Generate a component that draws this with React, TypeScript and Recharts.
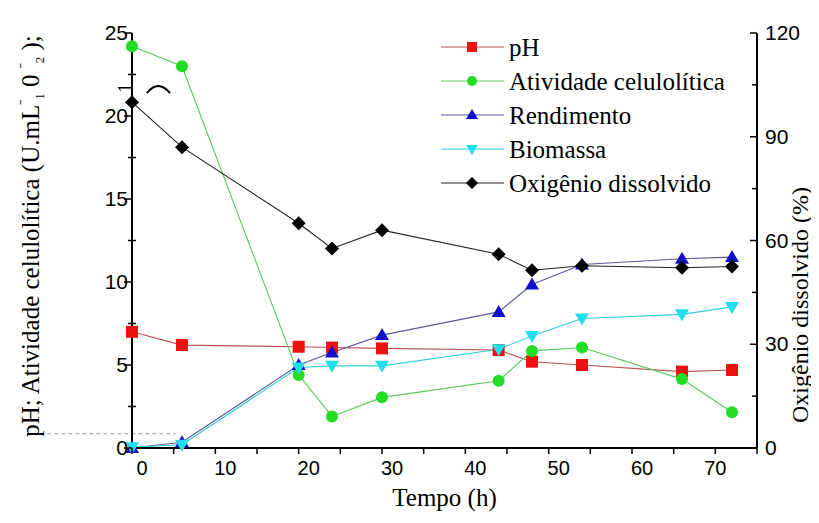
import React from "react";
import { LineChart, Line, XAxis, YAxis, Legend, ReferenceLine, Label } from "recharts";

// tempo de cultivo (h)
const tempo = [0, 6, 20, 24, 30, 44, 48, 54, 66, 72];

// eixo esquerdo
const ph = [7.0, 6.2, 6.1, 6.05, 6.0, 5.9, 5.2, 5.0, 4.6, 4.7];
const atividade = [24.2, 23.0, 4.4, 1.9, 3.05, 4.05, 5.85, 6.05, 4.15, 2.15];
const rendimento = [0.0, 0.35, 5.0, 5.75, 6.8, 8.2, 9.85, 11.05, 11.4, 11.5];
const biomassa = [0.05, 0.2, 4.85, 4.95, 4.95, 5.95, 6.75, 7.8, 8.05, 8.5];

// eixo direito (%)
const oxigenio = [100, 87, 65, 57.7, 63, 56, 51.4, 52.7, 52.1, 52.5];

const xTicks = [0, 5, 10, 15, 20, 25, 30, 35, 40, 45, 50, 55, 60, 65, 70, 75];
const leftTicks = [0, 2.5, 5, 7.5, 10, 12.5, 15, 17.5, 20, 22.5, 25];
const rightTicks = [0, 15, 30, 45, 60, 75, 90, 105, 120];

const data = tempo.map((t, i) => ({
  tempo: t,
  ph: ph[i],
  atividade: atividade[i],
  rendimento: rendimento[i],
  biomassa: biomassa[i],
  oxigenio: oxigenio[i],
}));

type Shape = "square" | "circle" | "up" | "down" | "diamond";

const series: { key: string; name: string; fill: string; stroke: string; shape: Shape; axis: string }[] = [
  { key: "ph", name: "pH", fill: "#ee1111", stroke: "#b85050", shape: "square", axis: "left" },
  { key: "atividade", name: "Atividade celulolítica", fill: "#22dd22", stroke: "#55cc55", shape: "circle", axis: "left" },
  { key: "rendimento", name: "Rendimento", fill: "#1111cc", stroke: "#5a5a96", shape: "up", axis: "left" },
  { key: "biomassa", name: "Biomassa", fill: "#22ddee", stroke: "#33ccdd", shape: "down", axis: "left" },
  { key: "oxigenio", name: "Oxigênio dissolvido", fill: "#000000", stroke: "#222222", shape: "diamond", axis: "right" },
];

const SANS = "'Liberation Sans', Arial, sans-serif";
const SERIF = "'Liberation Serif', 'Times New Roman', serif";

function Marker({ cx, cy, shape, fill, s = 6 }: { cx: number; cy: number; shape: Shape; fill: string; s?: number }) {
  if (cx == null || cy == null || isNaN(cx) || isNaN(cy)) return null;
  switch (shape) {
    case "square":
      return <rect x={cx - s} y={cy - s} width={2 * s} height={2 * s} fill={fill} />;
    case "circle":
      return <circle cx={cx} cy={cy} r={s} fill={fill} />;
    case "up":
      return <polygon points={`${cx},${cy - s - 1} ${cx + s + 1},${cy + s - 1} ${cx - s - 1},${cy + s - 1}`} fill={fill} />;
    case "down":
      return <polygon points={`${cx - s - 1},${cy - s + 1} ${cx + s + 1},${cy - s + 1} ${cx},${cy + s + 1}`} fill={fill} />;
    default:
      return <polygon points={`${cx},${cy - s - 1} ${cx + s + 1},${cy} ${cx},${cy + s + 1} ${cx - s - 1},${cy}`} fill={fill} />;
  }
}

function XTick({ x, y, payload }: any) {
  const v = payload.value;
  const dx = v === 70 ? 0 : 10;
  return (
    <g>
      <line x1={x} x2={x} y1={y} y2={y + 6} stroke="#000" strokeWidth={1.5} />
      {v % 10 === 0 && v <= 70 && (
        <text x={x + dx} y={y + 27} textAnchor="middle" fontSize={20} fontFamily={SANS} fill="#000">
          {v}
        </text>
      )}
    </g>
  );
}

function LeftTick({ x, y, payload }: any) {
  const v = payload.value;
  const major = v % 5 === 0;
  return (
    <g>
      {major ? (
        <line x1={x - 8} x2={x} y1={y} y2={y} stroke="#000" strokeWidth={1.5} />
      ) : (
        <line x1={x - 4} x2={x + 4} y1={y} y2={y} stroke="#000" strokeWidth={1.5} />
      )}
      {major && (
        <text x={x - 4} y={y + 7} textAnchor="end" fontSize={21} fontFamily={SANS} fill="#000">
          {v}
        </text>
      )}
    </g>
  );
}

function RightTick({ x, y, payload }: any) {
  const v = payload.value;
  const major = v % 30 === 0;
  return (
    <g>
      <line x1={x - (major ? 7 : 5)} x2={x} y1={y} y2={y} stroke="#000" strokeWidth={1.5} />
      {major && (
        <text x={x + 8} y={y + 7} textAnchor="start" fontSize={21} fontFamily={SANS} fill="#000">
          {v}
        </text>
      )}
    </g>
  );
}

function LegendBox() {
  return (
    <div style={{ fontFamily: SERIF, fontSize: 25, color: "#000" }}>
      {series.map((s) => (
        <div key={s.key} style={{ display: "flex", alignItems: "center", height: 34 }}>
          <svg width={66} height={20} style={{ display: "block" }}>
            <line x1={1} x2={64} y1={10} y2={10} stroke={s.stroke} strokeWidth={1.2} />
            <Marker cx={32} cy={10} shape={s.shape} fill={s.fill} s={5} />
          </svg>
          <span style={{ marginLeft: 3, lineHeight: "25px" }}>{s.name}</span>
        </div>
      ))}
    </div>
  );
}

function LeftTitle() {
  const x = 31;
  const y = 228;
  return (
    <text
      x={x}
      y={y}
      transform={`rotate(-90, ${x}, ${y})`}
      textAnchor="middle"
      fontSize={25}
      fontFamily={SERIF}
      fill="#000"
    >
      pH; Atividade celulolítica (U.mL
      <tspan fontSize={15} dy={-10}>ˉ</tspan>
      <tspan fontSize={13} dy={15}>1</tspan>
      <tspan fontSize={25} dy={-5}> 0 </tspan>
      <tspan fontSize={15} dy={-10}>ˉ</tspan>
      <tspan fontSize={13} dy={15}>2</tspan>
      <tspan fontSize={25} dy={-5}> );</tspan>
    </text>
  );
}

function RightTitle() {
  const x = 800;
  const y = 297;
  return (
    <text
      x={x}
      y={y}
      transform={`rotate(-90, ${x}, ${y})`}
      textAnchor="middle"
      fontSize={24}
      fontFamily={SERIF}
      fill="#000"
    >
      Oxigênio dissolvido (%)
    </text>
  );
}

export default function App() {
  return (
    <div style={{ position: "relative", width: 811, height: 515 }}>
      <LineChart width={811} height={515} data={data} margin={{ top: 25, right: 0, bottom: 0, left: 0 }}>
        <XAxis
          dataKey="tempo"
          type="number"
          domain={[0, 75]}
          ticks={xTicks}
          interval={0}
          height={75}
          tickSize={0}
          tickMargin={0}
          tickLine={false}
          tick={<XTick />}
          axisLine={{ stroke: "#000", strokeWidth: 2 }}
        >
          <Label
            value="Tempo (h)"
            position="insideBottom"
            offset={17}
            style={{ fontFamily: SERIF, fontSize: 25, fill: "#000" }}
          />
        </XAxis>
        <YAxis
          yAxisId="left"
          orientation="left"
          domain={[0, 25]}
          ticks={leftTicks}
          interval={0}
          width={124}
          tickSize={0}
          tickMargin={0}
          tickLine={false}
          tick={<LeftTick />}
          axisLine={{ stroke: "#000", strokeWidth: 2 }}
        >
          <Label content={<LeftTitle />} />
        </YAxis>
        <YAxis
          yAxisId="right"
          orientation="right"
          domain={[0, 120]}
          ticks={rightTicks}
          interval={0}
          width={62}
          tickSize={0}
          tickMargin={0}
          tickLine={false}
          tick={<RightTick />}
          axisLine={{ stroke: "#000", strokeWidth: 2 }}
        >
          <Label content={<RightTitle />} />
        </YAxis>
        <ReferenceLine
          yAxisId="left"
          segment={[{ x: -11, y: 0.86 }, { x: 5.2, y: 0.86 }]}
          ifOverflow="visible"
          stroke="#999"
          strokeDasharray="4 3"
        />
        {series.map((s) => (
          <Line
            key={s.key}
            yAxisId={s.axis}
            type="linear"
            dataKey={s.key}
            name={s.name}
            stroke={s.stroke}
            strokeWidth={1.1}
            isAnimationActive={false}
            activeDot={false}
            dot={(p: any) => (
              <Marker key={`${s.key}-${p.index}`} cx={p.cx} cy={p.cy} shape={s.shape} fill={s.fill} />
            )}
          />
        ))}
        <Legend
          layout="vertical"
          align="center"
          verticalAlign="middle"
          content={<LegendBox />}
          wrapperStyle={{ position: "absolute", left: 432, top: 22, width: 330 }}
        />
      </LineChart>
      {/* leftover fragments of the original axis label */}
      <svg width={811} height={515} style={{ position: "absolute", left: 0, top: 0, pointerEvents: "none" }}>
        <text x={124} y={80} transform="rotate(-90, 124, 80)" textAnchor="middle" fontSize={20} fontFamily={SERIF}>
          1
        </text>
        <path d="M139,85 Q150,71 162,85" fill="none" stroke="#000" strokeWidth={2} />
      </svg>
    </div>
  );
}
